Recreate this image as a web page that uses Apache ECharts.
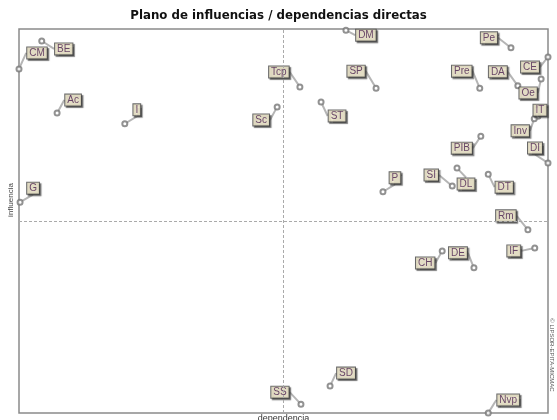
<!DOCTYPE html>
<html>
<head>
<meta charset="utf-8">
<script src="https://cdn.jsdelivr.net/npm/echarts@6/dist/echarts.min.js"></script>
<style>
  html, body { margin: 0; padding: 0; background: #fff; }
  #chart1 { width: 557px; height: 420px; }
</style>
</head>
<body>
<div id="chart1"></div>
<script>
// 变量名称
const names = ['BE', 'CM', 'Ac', 'I', 'Tcp', 'Sc', 'ST', 'SP', 'DM', 'Pe',
    'Pre', 'DA', 'Oe', 'CE', 'IT', 'Inv', 'DI', 'PIB', 'P', 'SI',
    'DL', 'DT', 'Rm', 'IF', 'DE', 'CH', 'G', 'SD', 'SS', 'Nvp'];

// 依赖度 (x)
const dependencia = [4.3, 0, 7.2, 20.0, 53.1, 48.8, 57.1, 67.5, 61.8, 93.0,
    87.1, 94.3, 98.7, 100, 98.1, 97.4, 100, 87.3, 68.8, 81.9,
    82.8, 88.7, 96.2, 97.5, 86.0, 80.0, 0.2, 58.8, 53.3, 88.7];

// 影响度 (y)
const influencia = [96.9, 89.6, 78.1, 75.3, 84.9, 79.7, 81.0, 84.6, 99.7, 95.1,
    84.6, 85.2, 87.0, 92.7, 77.3, 76.6, 65.1, 72.1, 57.6, 59.1,
    63.8, 62.2, 47.7, 43.0, 37.8, 42.2, 54.9, 7.0, 2.3, 0];

// 平均线
const meanX = 50;
const meanY = 50;

// 标签偏移 (像素)
const labelOffsets = [[22, 8], [18, -16], [16, -13], [12, -14], [-21, -15], [-16, 13], [16, 14], [-20, -17], [20, 5], [-22, -10],
    [-18, -17], [-20, -14], [-13, 14], [-18, 10], [2, -6], [-14, 12], [-13, -15], [-19, 12], [12, -14], [-21, -11],
    [9, 16], [16, 13], [-22, -14], [-21, 3], [-16, -15], [-17, 12], [13, -14], [16, -13], [-21, -12], [20, -13]];

function initChart() {
    const chart = echarts.init(document.getElementById('chart1'), null, { renderer: 'canvas' });

    const data = names.map((n, i) => ({ name: n, value: [dependencia[i], influencia[i]] }));

    const option = {
        animation: false,
        title: {
            text: 'Plano de influencias / dependencias directas',
            left: 'center',
            top: 5,
            textStyle: { fontFamily: 'DejaVu Sans', fontWeight: 'bold', fontSize: 11.8, color: '#111' }
        },
        grid: {
            left: 19, right: 9, top: 29, bottom: 7,
            outerBoundsMode: 'none',
            containLabel: false,
            show: true,
            borderColor: '#8a8a8a',
            borderWidth: 1.5
        },
        xAxis: {
            type: 'value', min: 0, max: 100,
            name: 'dependencia',
            nameLocation: 'middle',
            nameGap: 1,
            nameTextStyle: { fontSize: 9, color: '#333', fontFamily: 'Liberation Sans', verticalAlign: 'top' },
            axisLine: { show: false }, axisTick: { show: false },
            axisLabel: { show: false }, splitLine: { show: false }
        },
        yAxis: {
            type: 'value', min: 0, max: 100,
            axisLine: { show: false }, axisTick: { show: false },
            axisLabel: { show: false }, splitLine: { show: false }
        },
        graphic: [
            {
                type: 'text', x: 11, y: 200, rotation: Math.PI / 2,
                style: { text: 'influencia', fontSize: 8, fill: '#444', fontFamily: 'Liberation Sans', align: 'center', verticalAlign: 'middle' }
            },
            {
                type: 'text', x: 552, y: 355, rotation: -Math.PI / 2,
                style: { text: '© LIPSOR-EPITA-MICMAC', fontSize: 6, fill: '#555', fontFamily: 'Liberation Sans', align: 'center', verticalAlign: 'middle' }
            }
        ],
        series: [{
            type: 'scatter',
            data: data,
            clip: false,
            symbol: 'emptyCircle',
            symbolSize: 5,
            itemStyle: { color: '#777', borderColor: '#666', borderWidth: 1 },
            label: {
                show: true,
                position: 'inside',
                formatter: '{b}',
                fontFamily: 'Liberation Sans',
                fontSize: 10,
                color: '#4a2050',
                backgroundColor: '#fbf4d6',
                borderColor: '#444',
                borderWidth: 1,
                padding: [1, 2, 0, 2],
                shadowColor: 'rgba(60,60,60,0.8)',
                shadowOffsetX: 1.5,
                shadowOffsetY: 1.5,
                shadowBlur: 1
            },
            labelLine: {
                show: true,
                lineStyle: { color: '#b5b5b5', width: 2 }
            },
            labelLayout: function (params) {
                const o = labelOffsets[params.dataIndex];
                return { dx: o[0], dy: o[1] };
            },
            markLine: {
                silent: true,
                symbol: 'none',
                label: { show: false },
                lineStyle: { type: [3, 2], color: '#aaa', width: 1 },
                data: [{ xAxis: meanX }, { yAxis: meanY }]
            }
        }]
    };

    chart.setOption(option);
}

window.addEventListener('load', initChart);
</script>
</body>
</html>
